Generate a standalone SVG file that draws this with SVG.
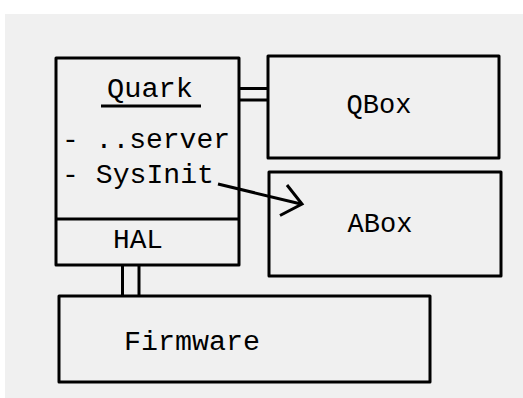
<svg xmlns="http://www.w3.org/2000/svg" width="523" height="398" viewBox="0 0 523 398">
<style>
.box{fill:none;stroke:#000;stroke-width:3;stroke-linejoin:round}
.ln{fill:none;stroke:#000;stroke-width:3}
.t{font-family:"Liberation Mono","DejaVu Sans Mono",monospace;font-size:27px;fill:#000}
</style>
<rect x="0" y="0" width="523" height="398" fill="#ffffff"/>
<rect x="5" y="14" width="518" height="384" fill="#f0f0f0"/>
<g id="connectors">
<line class="ln" x1="239" y1="88.5" x2="268" y2="88.5"/>
<line class="ln" x1="239" y1="100" x2="268" y2="100"/>
<line class="ln" x1="122.5" y1="265" x2="122.5" y2="296"/>
<line class="ln" x1="139" y1="265" x2="139" y2="297"/>
<path class="ln" d="M218,184 L301,204"/>
<path class="ln" d="M287,185 L302,204 L280,215.5" stroke-linejoin="miter"/>
</g>
<g id="quark">
<rect class="box" x="56" y="58" width="183" height="207"/>
<line class="ln" x1="56" y1="219" x2="239" y2="219"/>
<text class="t" x="150" y="97" text-anchor="middle" textLength="86" lengthAdjust="spacingAndGlyphs">Quark</text>
<line class="ln" x1="101" y1="106" x2="201" y2="106"/>
<text class="t" x="62" y="148" textLength="168" lengthAdjust="spacingAndGlyphs">- ..server</text>
<text class="t" x="62" y="183" textLength="152" lengthAdjust="spacingAndGlyphs">- SysInit</text>
<text class="t" x="138" y="248" text-anchor="middle" textLength="50" lengthAdjust="spacingAndGlyphs">HAL</text>
</g>
<g id="qbox">
<rect class="box" x="268" y="56" width="231" height="102"/>
<text class="t" x="379" y="113" text-anchor="middle">QBox</text>
</g>
<g id="abox">
<rect class="box" x="269" y="172" width="232" height="104"/>
<text class="t" x="380" y="232" text-anchor="middle">ABox</text>
</g>
<g id="firmware">
<rect class="box" x="59" y="296" width="371" height="86"/>
<text class="t" x="192" y="350" text-anchor="middle" textLength="136" lengthAdjust="spacingAndGlyphs">Firmware</text>
</g>
</svg>
